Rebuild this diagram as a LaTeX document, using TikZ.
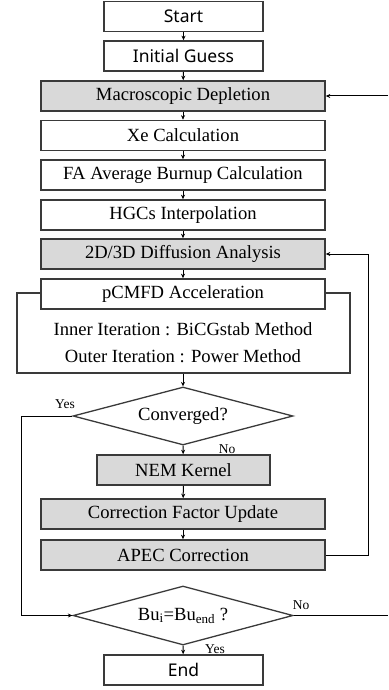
\documentclass[tikz,border=0pt]{standalone}
\usepackage{fontspec}
\setmainfont{Liberation Serif}
\newfontfamily\sansf{Noto Sans}
\usetikzlibrary{shapes.geometric,arrows.meta}
\definecolor{boxgray}{HTML}{D9D9D9}
\definecolor{edgegray}{HTML}{3A3A3A}
\begin{document}
\begin{tikzpicture}[x=1pt,y=-1pt,
  box/.style={draw=edgegray,line width=1.6pt,fill=white,minimum height=30pt,inner sep=0pt,
    font=\fontsize{18.6}{20}\selectfont},
  wide/.style={box,minimum width=284pt},
  shade/.style={fill=boxgray},
  sbox/.style={box,minimum width=159pt,font=\sansf\fontsize{17.5}{20}\selectfont},
  dec/.style={diamond,draw=edgegray,line width=1.3pt,inner sep=0pt,minimum width=220pt,
    font=\fontsize{18.6}{20}\selectfont},
  lbl/.style={font=\fontsize{13.5}{15}\selectfont,inner sep=0pt},
  conn/.style={line width=1pt,-{Stealth[length=4.5pt,width=4pt]}},
  plain/.style={line width=1pt}]
\useasboundingbox (0,0) rectangle (388,690);
\node[sbox] (start) at (183.5,16.5) {Start};
\node[sbox] (guess) at (183.5,56) {Initial Guess};
\node[wide,shade] (macro) at (183,96) {Macroscopic Depletion};
\node[wide] (xe) at (183,135.5) {Xe Calculation};
\node[wide] (fa) at (183,175) {FA Average Burnup Calculation};
\node[wide] (hgc) at (183,215) {HGCs Interpolation};
\node[wide,shade] (diff) at (183,254) {2D/3D Diffusion Analysis};
\node[draw=edgegray,line width=1.6pt,minimum width=333pt,minimum height=80pt,inner sep=0pt] (iter) at (183.5,333) {};
\node[wide] (pcmfd) at (183,294) {pCMFD Acceleration};
\node[font=\fontsize{18.6}{20}\selectfont,inner sep=0pt] (inner) at (183,329) {Inner Iteration : BiCGstab Method};
\node[font=\fontsize{18.6}{20}\selectfont,inner sep=0pt] (outer) at (183,356) {Outer Iteration : Power Method};
\node[dec,aspect=3.79,minimum height=58pt] (conv) at (183,416) {Converged?};
\node[box,shade,minimum width=173pt] (nem) at (183.5,470) {NEM Kernel};
\node[wide,shade] (cfu) at (183,514) {Correction Factor Update};
\node[wide,shade] (apec) at (183,555) {APEC Correction};
\node[dec,aspect=3.73,minimum height=59pt] (bu) at (183,615.5) {Bu\textsubscript{i}=Bu\textsubscript{end} ?};
\node[sbox] (end) at (183.5,670) {End};
\node[lbl] (yes1) at (65,404) {Yes};
\node[lbl] (no1) at (227,449) {No};
\node[lbl] (no2) at (301,605) {No};
\node[lbl] (yes2) at (215,649) {Yes};
\coordinate (rin) at (388,96);
\coordinate (rout) at (388,615.5);
\draw[conn] (start) -- (guess);
\draw[conn] (guess) -- (macro);
\draw[conn] (macro) -- (xe);
\draw[conn] (xe) -- (fa);
\draw[conn] (fa) -- (hgc);
\draw[conn] (hgc) -- (diff);
\draw[conn] (diff) -- (pcmfd);
\draw[conn] (iter.south -| conv.north) -- (conv.north);
\draw[conn] (conv.south) -- (nem);
\draw[conn] (nem) -- (cfu);
\draw[conn] (cfu) -- (apec);
\draw[conn] (bu.south) -- (end);
\draw[conn] (rin) -- (macro.east);
\draw[plain] (bu.east) -- (rout);
\draw[conn] (apec.east) -- (368,555) |- (diff.east);
\draw[conn] (conv.west) -- (21,416) |- (bu.west);
\end{tikzpicture}
\end{document}
